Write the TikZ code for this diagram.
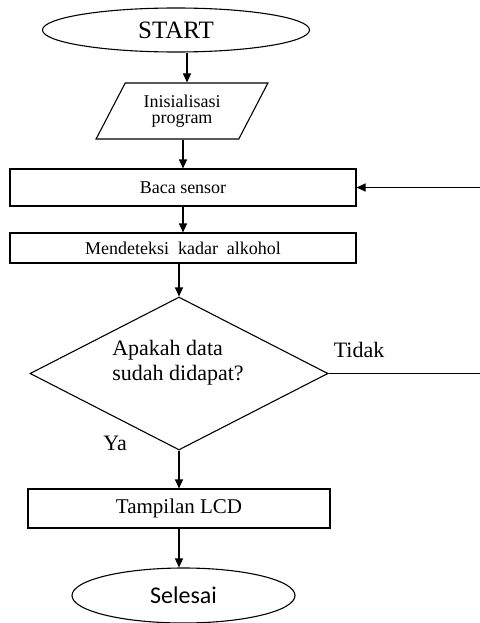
\documentclass[tikz,border=0pt]{standalone}
\usepackage{fontspec}
\setmainfont{Liberation Serif}
\newfontfamily\calibrifont{Carlito}
\usetikzlibrary{positioning,arrows.meta,shapes.geometric}
\tikzset{
  >={Triangle[length=9pt,width=8pt]},
  term/.style={draw, ellipse, line width=1.1pt, inner sep=0pt, minimum width=#1},
  io/.style={draw, trapezium, trapezium left angle=59, trapezium right angle=121,
             trapezium stretches=true, line width=1.1pt, align=center, inner sep=0pt},
  proc/.style={draw, rectangle, line width=1.1pt, inner sep=0pt, minimum width=#1},
  proc/.default=346pt,
  dec/.style={draw, diamond, line width=1.1pt, inner sep=0pt,
              minimum width=298pt, minimum height=153pt},
  flow/.style={->, line width=1.1pt},
  big/.style={font=\fontsize{22}{25}\selectfont},
  small/.style={font=\fontsize{18}{16.5}\selectfont},
  lab/.style={big, inner sep=0pt}
}

\begin{document}
\begin{tikzpicture}[x=1pt,y=1pt]
\useasboundingbox (0,0) rectangle (479,-623);
\node[term=267pt, minimum height=44pt, font=\fontsize{25}{28}\selectfont] (start) at (176,-30) {START};
\node[io, minimum width=172pt, minimum height=56pt, small] (init) at (182,-111) {Inisialisasi\\ program};
\node[proc, minimum height=37pt, small] (baca) at (183,-187.5) {Baca sensor};
\node[proc, minimum height=30pt, small] (mend) at (183,-248) {Mendeteksi~ kadar~ alkohol};
\node[dec, label={[big, align=left, inner sep=0pt, xshift=-1pt, yshift=11pt]center:Apakah data\\ sudah didapat?}] (dia) at (179,-373.5) {};
\node[proc=302pt, minimum height=39pt, font=\fontsize{21}{24}\selectfont] (tampil) at (179,-508.5) {Tampilan LCD};
\node[term=223pt, minimum height=55pt, font=\calibrifont\fontsize{24}{27}\selectfont] (selesai) at (183.5,-595.5) {Selesai};
\draw[flow] ([xshift=11pt]start.south) -- ([xshift=11pt]start.south |- init.north);
\draw[flow] (init.south -| baca.north) -- (baca.north);
\draw[flow] (baca) -- (mend);
\draw[flow] (mend.south -| dia.north) -- (dia.north);
\draw[flow] (dia.south) -- (dia.south |- tampil.north);
\draw[flow] (tampil.south) -- (tampil.south |- selesai.north);
\draw[flow] (dia.east) -- ++(153,0) |- (baca.east);
\node[lab, above right=16pt and 5pt of dia.east] (tidak) {Tidak};
\node[lab, above left=0pt and 52pt of dia.south] (ya) {Ya};
\end{tikzpicture}
\end{document}
